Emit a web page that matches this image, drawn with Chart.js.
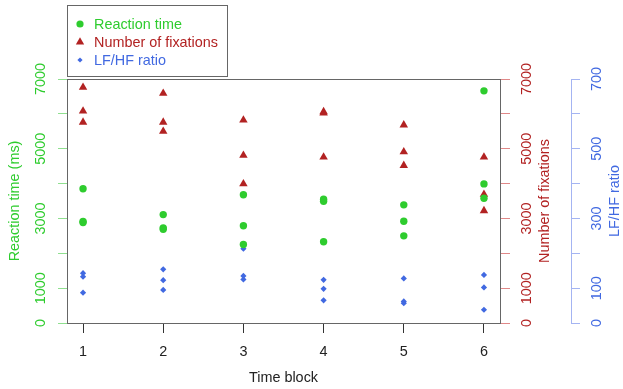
<!DOCTYPE html>
<html>
<head>
<meta charset="utf-8">
<script src="https://cdn.jsdelivr.net/npm/chart.js@4/dist/chart.umd.min.js"></script>
<style>
html,body{margin:0;padding:0;background:#fff;}
#wrap{width:623px;height:389px;position:relative;}
</style>
</head>
<body>
<div id="wrap"><canvas id="c" width="623" height="389"></canvas></div>
<script>
// ---- data ----
const timeBlocks = [1, 2, 3, 4, 5, 6];
const xTickLabels = ['1', '2', '3', '4', '5', '6'];
// three measurements per block
const reactionTimeX = [1,1,1, 2,2,2, 3,3,3, 4,4,4, 5,5,5, 6,6,6];
const reactionTime  = [3850,2910,2880, 3110,2730,2690, 3680,2790,2250, 3550,3490,2330, 3390,2920,2500, 6660,3990,3580];
const fixationsX = [1,1,1, 2,2,2, 3,3,3, 4,4,4, 5,5,5, 6,6,6];
const fixations  = [6760,6080,5760, 6590,5760,5500, 5820,4810,3990, 6060,6020,4760, 5680,4910,4520, 4760,3690,3220];
const lfhfX = [1,1,1, 2,2,2, 3,3,3, 4,4,4, 5,5,5, 6,6,6];
const lfhf  = [143,133,87, 154,123,95, 213,135,125, 124,98,65, 128,62,57, 138,102,38];
const leftTickLabels = ['0','1000','3000','5000','7000'];
const lfhfTickLabels = ['0','100','300','500','700'];

const GREEN = '#2ecc2e', RED = '#b22222', BLUE = '#4169e1';
const FONT = {family: '"Liberation Sans", Arial, sans-serif', size: 14.4};

function pts(xs, ys){ return xs.map((x,i)=>({x:x, y:ys[i]})); }

const boxPlugin = {
  id: 'boxPlugin',
  afterDraw(chart){
    const ctx = chart.ctx, a = chart.chartArea;
    ctx.save();
    // plot box
    ctx.strokeStyle = '#666';
    ctx.lineWidth = 1;
    ctx.strokeRect(Math.round(a.left)+0.5, Math.round(a.top)+0.5, Math.round(a.right-a.left), Math.round(a.bottom-a.top));
    // legend box
    const lx = 67.5, ly = 5.5, lw = 160, lh = 71;
    ctx.fillStyle = '#fff';
    ctx.fillRect(lx, ly, lw, lh);
    ctx.strokeStyle = '#666';
    ctx.strokeRect(lx, ly, lw, lh);
    const rows = [24, 42, 60];
    chart.data.datasets.forEach((d, i) => {
      const y = rows[i];
      ctx.save();
      ctx.font = FONT.size + 'px ' + FONT.family;
      ctx.textBaseline = 'middle';
      ctx.textAlign = 'left';
      ctx.fillStyle = d.backgroundColor;
      ctx.strokeStyle = d.backgroundColor;
      ctx.lineWidth = 0;
      Chart.helpers.drawPoint(ctx, {pointStyle: d.pointStyle, radius: d.legendRadius, borderWidth: 0}, 80, y);
      ctx.fillText(d.label, 94, y + 1);
      ctx.restore();
    });
    // right axis titles (reading upward as in the reference)
    const y2 = chart.scales.y2, y3 = chart.scales.y3;
    const midY = (a.top + a.bottom) / 2;
    [[545, RED, y2.options.title.text], [615, BLUE, y3.options.title.text]].forEach(([x, col, txt]) => {
      ctx.save();
      ctx.translate(x, midY);
      ctx.rotate(-Math.PI/2);
      ctx.font = FONT.size + 'px ' + FONT.family;
      ctx.fillStyle = col;
      ctx.textAlign = 'center';
      ctx.textBaseline = 'middle';
      ctx.fillText(txt, 0, 0);
      ctx.restore();
    });
    ctx.restore();
  }
};

function labelSubset(labels){
  return function(v){
    const s = String(v);
    return labels.includes(s) ? s : '';
  };
}

new Chart(document.getElementById('c'), {
  type: 'scatter',
  data: {
    datasets: [
      {label: 'Reaction time', data: pts(reactionTimeX, reactionTime), yAxisID: 'y',
       pointStyle: 'circle', pointRadius: 3.7, backgroundColor: GREEN, borderColor: GREEN, borderWidth: 0, legendRadius: 3.6},
      {label: 'Number of fixations', data: pts(fixationsX, fixations), yAxisID: 'y2',
       pointStyle: 'triangle', pointRadius: 4.9, backgroundColor: RED, borderColor: RED, borderWidth: 0, legendRadius: 4.8},
      {label: 'LF/HF ratio', data: pts(lfhfX, lfhf), yAxisID: 'y3',
       pointStyle: 'rectRot', pointRadius: 3.1, backgroundColor: BLUE, borderColor: BLUE, borderWidth: 0, legendRadius: 2.6}
    ]
  },
  options: {
    responsive: false,
    animation: false,
    events: [],
    layout: {padding: {top: 79, left: 0, right: 0, bottom: 0}},
    plugins: {legend: {display: false}, tooltip: {enabled: false}},
    scales: {
      x: {
        type: 'linear', position: 'bottom', min: 0.8, max: 6.2,
        afterBuildTicks(s){ s.ticks = timeBlocks.map(v => ({value: v})); },
        afterFit(s){ s.height = 66; },
        grid: {drawOnChartArea: false, tickLength: 10, color: '#333', tickColor: '#333'},
        border: {display: false},
        ticks: {color: '#222', font: FONT, padding: 10, maxRotation: 0, autoSkip: false,
                callback: (v) => xTickLabels[timeBlocks.indexOf(v)] || ''},
        title: {display: true, text: 'Time block', color: '#222', font: FONT, padding: {top: 0, bottom: 2}}
      },
      y: {
        position: 'left', min: 0, max: 7000,
        afterFit(s){ s.width = 67; },
        grid: {drawOnChartArea: false, tickLength: 9, color: '#8fe08f', tickColor: '#8fe08f'},
        border: {display: false},
        ticks: {stepSize: 1000, color: GREEN, font: FONT, padding: 1, minRotation: 90, maxRotation: 90,
                autoSkip: false, crossAlign: 'center', callback: labelSubset(leftTickLabels)},
        title: {display: true, text: 'Reaction time (ms)', color: GREEN, font: FONT, padding: {top: 6, bottom: 0}}
      },
      y2: {
        position: 'right', min: 0, max: 7000,
        afterFit(s){ s.width = 71; },
        grid: {drawOnChartArea: false, tickLength: 10, color: '#e08888', tickColor: '#e08888'},
        border: {display: false},
        ticks: {stepSize: 1000, color: RED, font: FONT, padding: 1, minRotation: 90, maxRotation: 90,
                autoSkip: false, crossAlign: 'center', callback: labelSubset(leftTickLabels)},
        title: {display: false, text: 'Number of fixations'}
      },
      y3: {
        position: 'right', min: 0, max: 700,
        afterFit(s){ s.width = 52; },
        grid: {drawOnChartArea: false, tickLength: 9, color: '#a4b4f2', tickColor: '#a4b4f2'},
        border: {display: true, color: '#a4b4f2', width: 1},
        ticks: {stepSize: 100, color: BLUE, font: FONT, padding: 5, minRotation: 90, maxRotation: 90,
                autoSkip: false, crossAlign: 'center', callback: labelSubset(lfhfTickLabels)},
        title: {display: false, text: 'LF/HF ratio'}
      }
    }
  },
  plugins: [boxPlugin]
});
</script>
</body>
</html>
